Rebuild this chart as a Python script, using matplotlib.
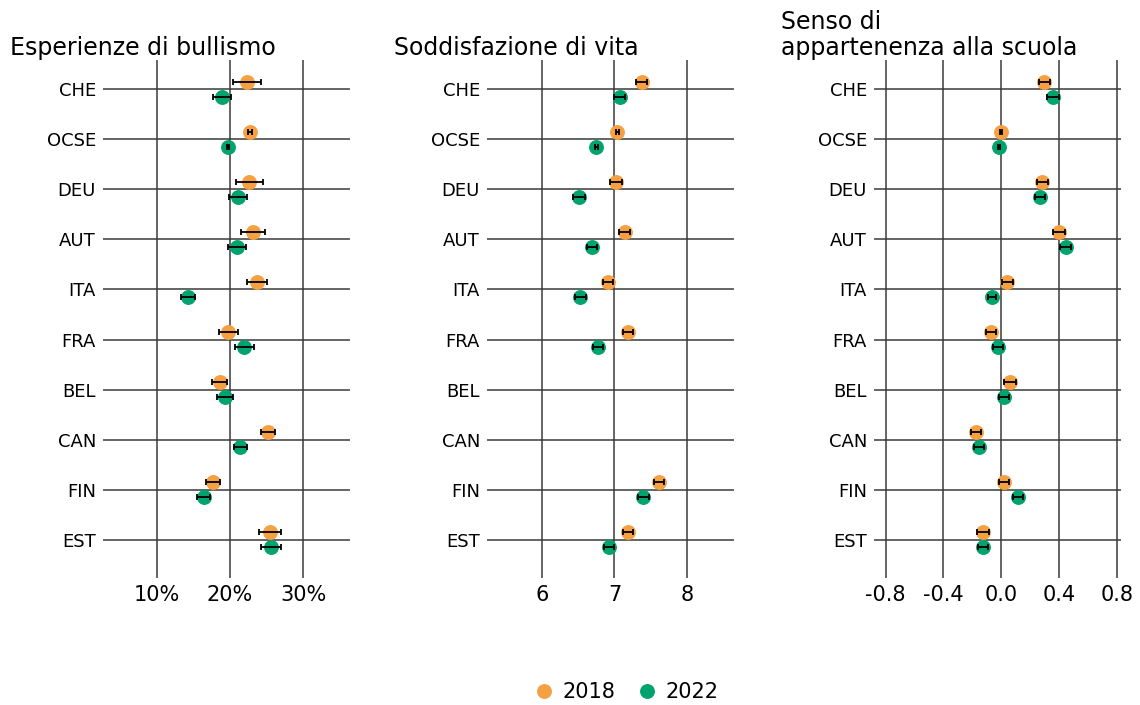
import numpy as np
import matplotlib.pyplot as plt

countries = ['CHE', 'OCSE', 'DEU', 'AUT', 'ITA', 'FRA', 'BEL', 'CAN', 'FIN', 'EST']

# Esperienze di bullismo (%)
bully_18 = [22.4, 22.75, 22.65, 23.15, 23.7, 19.8, 18.6, 25.2, 17.7, 25.45]
bully_18_err = [1.9, 0.25, 1.85, 1.6, 1.4, 1.3, 1.0, 0.9, 1.0, 1.5]
bully_22 = [18.9, 19.75, 21.1, 21.0, 14.3, 22.0, 19.35, 21.45, 16.45, 25.6]
bully_22_err = [1.25, 0.2, 1.25, 1.2, 0.9, 1.3, 1.15, 0.9, 0.9, 1.4]

# Soddisfazione di vita
life_18 = [7.375, 7.04, 7.02, 7.14, 6.91, 7.19, np.nan, np.nan, 7.62, 7.19]
life_18_err = [0.08, 0.02, 0.08, 0.08, 0.07, 0.07, np.nan, np.nan, 0.07, 0.07]
life_22 = [7.07, 6.75, 6.51, 6.69, 6.53, 6.77, np.nan, np.nan, 7.40, 6.92]
life_22_err = [0.075, 0.02, 0.08, 0.07, 0.07, 0.07, np.nan, np.nan, 0.07, 0.07]

# Senso di appartenenza alla scuola
belong_18 = [0.30, 0.0, 0.285, 0.40, 0.044, -0.071, 0.062, -0.175, 0.021, -0.124]
belong_18_err = [0.04, 0.006, 0.04, 0.04, 0.035, 0.035, 0.04, 0.035, 0.035, 0.04]
belong_22 = [0.359, -0.016, 0.272, 0.446, -0.064, -0.023, 0.021, -0.156, 0.115, -0.124]
belong_22_err = [0.04, 0.006, 0.035, 0.04, 0.03, 0.035, 0.035, 0.035, 0.035, 0.035]

orange = '#F5A041'
green = '#00A36E'
grid_c = '#3a3a3a'

fig = plt.figure(figsize=(11.4, 7.05), dpi=100)

panels = [
    ('Esperienze di bullismo', bully_18, bully_18_err, bully_22, bully_22_err,
     (2.7, 36.4), [10, 20, 30], ['10%', '20%', '30%'], 103),
    ('Soddisfazione di vita', life_18, life_18_err, life_22, life_22_err,
     (5.24, 8.65), [6, 7, 8], ['6', '7', '8'], 487),
    ('Senso di\nappartenenza alla scuola', belong_18, belong_18_err, belong_22, belong_22_err,
     (-0.88, 0.83), [-0.8, -0.4, 0.0, 0.4, 0.8], ['-0.8', '-0.4', '0.0', '0.4', '0.8'], 874),
]

y = np.arange(len(countries))
off = 0.15

for title, v18, e18, v22, e22, xlim, xt, xtl, left_px in panels:
    ax = fig.add_axes([left_px / 1140, 1 - 578 / 705, 247 / 1140, 518 / 705])
    for s in ax.spines.values():
        s.set_visible(False)
    ax.set_xlim(*xlim)
    ax.set_ylim(9.76, -0.58)
    ax.set_xticks(xt)
    ax.set_xticklabels(xtl, fontsize=15)
    ax.set_yticks(y)
    ax.set_yticklabels(countries, fontsize=13)
    ax.tick_params(length=0, pad=5)
    ax.grid(True, color=grid_c, linewidth=1.1)
    ax.set_axisbelow(True)

    ax.plot(v18, y - off, 'o', color=orange, ms=9.7, zorder=3, label='2018')
    ax.plot(v22, y + off, 'o', color=green, ms=9.7, zorder=3, label='2022')
    ax.errorbar(v18, y - off, xerr=e18, fmt='none', ecolor='black',
                elinewidth=1.3, capsize=2, capthick=1.3, zorder=4)
    ax.errorbar(v22, y + off, xerr=e22, fmt='none', ecolor='black',
                elinewidth=1.3, capsize=2, capthick=1.3, zorder=4)

    fig.text((left_px - 93) / 1140, 1 - 60 / 705, title, fontsize=17,
             ha='left', va='bottom', linespacing=1.1)

handles, labels = ax.get_legend_handles_labels()
fig.legend(handles, labels, loc='center', bbox_to_anchor=(626 / 1140, 1 - 692 / 705),
           ncol=2, frameon=False, fontsize=15, handletextpad=0.4,
           columnspacing=1.0, handlelength=1.0)

plt.savefig('out.png', dpi=100)
